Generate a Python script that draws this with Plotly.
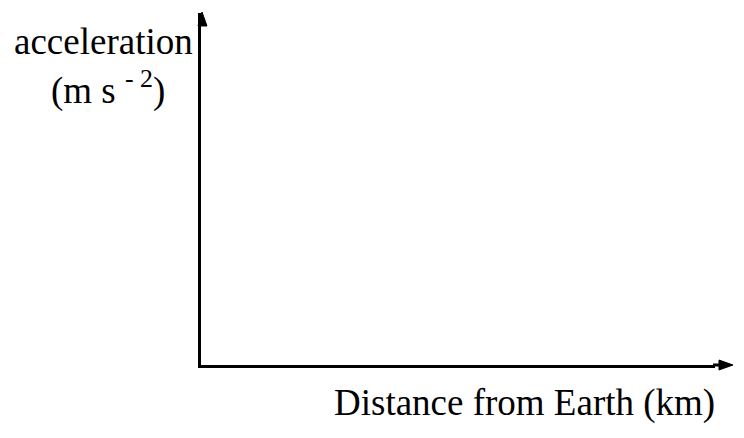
import plotly.graph_objects as go

# Data: the reference shows empty axes (no data plotted)
x_values = []
y_values = []
x_title = "Distance from Earth (km)"
y_title_line1 = "acceleration"
y_title_line2 = "(m s <sup>- 2</sup>)"

# page body has an 8px margin, so the figure is drawn 8px in from the window edge
OFF = 8
W, H = 744 - OFF, 438 - OFF
L, R, T, B = 201 - OFF, W - (715 - OFF), 13 - OFF, H - (365 - OFF)
pw, ph = W - L - R, H - T - B

def px(x):
    return (x - OFF - L) / pw

def py(y):
    return (H - B - (y - OFF)) / ph

def tri(points):
    return "M " + " L ".join(f"{px(a):.5f},{py(b):.5f}" for a, b in points) + " Z"

fig = go.Figure()
fig.add_trace(go.Scatter(x=x_values, y=y_values, mode="lines",
                         line=dict(color="black"), showlegend=False))

font = dict(family="Liberation Serif", size=37, color="black")

fig.update_layout(
    width=W, height=H,
    margin=dict(l=L, r=R, t=T, b=B, pad=0),
    paper_bgcolor="white", plot_bgcolor="white",
    showlegend=False,
    xaxis=dict(range=[0, 1], showline=True, linecolor="black", linewidth=3,
               showgrid=False, zeroline=False, showticklabels=False, ticks=""),
    yaxis=dict(range=[0, 1], showline=True, linecolor="black", linewidth=3,
               showgrid=False, zeroline=False, showticklabels=False, ticks=""),
    annotations=[
        dict(text=y_title_line1, xref="paper", yref="paper", x=px(103), y=py(41),
             xanchor="center", yanchor="middle", showarrow=False, font=font),
        dict(text=y_title_line2, xref="paper", yref="paper", x=px(108), y=py(88),
             xanchor="center", yanchor="middle", showarrow=False, font=font),
        dict(text=x_title, xref="paper", yref="paper", x=px(524), y=py(403),
             xanchor="center", yanchor="middle", showarrow=False, font=font),
    ],
    shapes=[
        # arrowheads at the axis ends (decoration)
        dict(type="path", xref="paper", yref="paper",
             path=tri([(202, 12), (198, 26), (207, 26)]),
             fillcolor="black", line=dict(color="black", width=1)),
        dict(type="path", xref="paper", yref="paper",
             path=tri([(733, 365), (719, 360), (719, 370)]),
             fillcolor="black", line=dict(color="black", width=1)),
        dict(type="line", xref="paper", yref="paper",
             x0=px(713), y0=py(365), x1=px(722), y1=py(365),
             line=dict(color="black", width=3)),
    ],
)

fig.write_html("out.html")
